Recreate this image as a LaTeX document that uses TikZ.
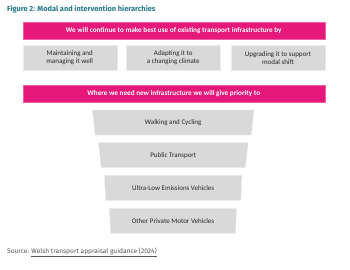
\documentclass[tikz,border=0pt]{standalone}
\usepackage{fontspec}
\setmainfont{Carlito}
\newfontfamily\firafont{Fira Sans}
\usetikzlibrary{shapes.geometric}
\definecolor{walesteal}{HTML}{237A8A}
\definecolor{walespink}{HTML}{E6197A}
\definecolor{boxgrey}{HTML}{D9D9D9}
\definecolor{srcgrey}{HTML}{555555}
\tikzset{
 pinkbar/.style={fill=walespink,draw=walespink!70!white,text=white,font=\fontsize{7.2}{8}\selectfont\bfseries,
  minimum width=302pt,minimum height=17pt,inner sep=0pt},
 greybox/.style={fill=boxgrey,draw=white!92!black,text=black!85,font=\fontsize{7}{8.2}\selectfont,
  minimum width=94pt,minimum height=25pt,inner sep=0pt,align=center},
 funnelbox/.style={trapezium,trapezium stretches=true,trapezium left angle=81,trapezium right angle=81,
  shape border rotate=180,fill=boxgrey,draw=white!92!black,text=black!85,font=\fontsize{7}{8.2}\selectfont,
  minimum height=25pt,inner sep=0pt}
}
\begin{document}
\begin{tikzpicture}[x=1pt,y=-1pt]
 \useasboundingbox[fill=white] (0,0) rectangle (350,269);
 \node[anchor=west,inner sep=0pt,text=walesteal,font=\firafont\fontsize{7.4}{9}\selectfont\bfseries] (title) at (7,9)
  {Figure 2: Modal and intervention hierarchies};
 % existing infrastructure
 \node[pinkbar] (existing) at (173.8,30.3) {We will continue to make best use of existing transport infrastructure by};
 \node[greybox] (maintain) at (69.7,58) {Maintaining and\\managing it well};
 \node[greybox] (adapt) at (173.3,58) {Adapting it to\\a changing climate};
 \node[greybox] (upgrade) at (278,58) {Upgrading it to support\\modal shift};
 % new infrastructure
 \node[pinkbar] (newinfra) at (173.8,93.5) {Where we need new infrastructure we will give priority to};
 \node[funnelbox,minimum width=161.7pt] (walk) at (173.2,122.5) {Walking and Cycling};
 \node[funnelbox,minimum width=150pt] (public) at (173.3,155.2) {Public Transport};
 \node[funnelbox,minimum width=138.3pt] (ulev) at (173.2,187.8) {Ultra-Low Emissions Vehicles};
 \node[funnelbox,minimum width=127.4pt] (private) at (173,220.8) {Other Private Motor Vehicles};
 \node[anchor=west,inner sep=0pt,text=srcgrey,font=\firafont\fontsize{6.6}{8}\selectfont] (source) at (7,252)
  {Source: \underline{Welsh transport appraisal guidance (2024)}};
\end{tikzpicture}
\end{document}
